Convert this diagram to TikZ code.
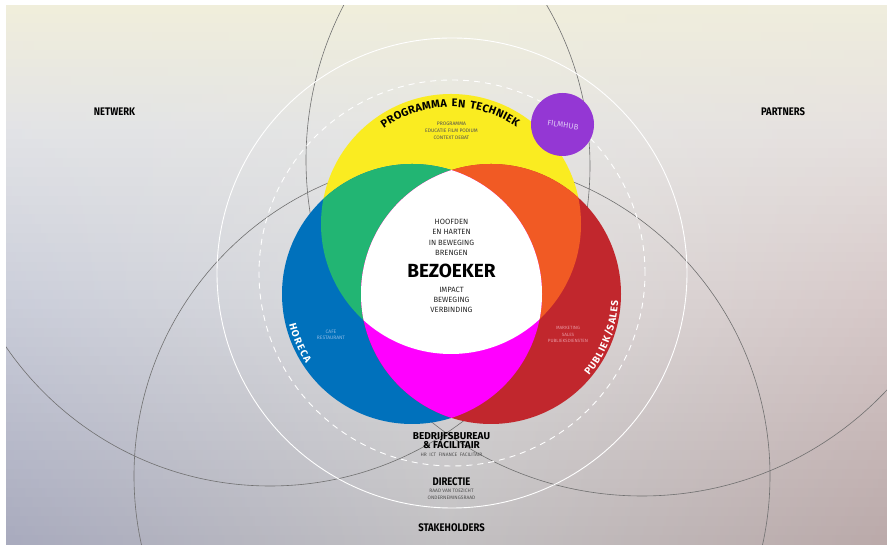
\documentclass[tikz,border=0pt]{standalone}
\usepackage{fontspec}
\setmainfont{Fira Sans}
\newfontfamily\headfont{Fira Sans}[FakeStretch=0.86]
\definecolor{cYel}{RGB}{250,236,33}
\definecolor{cGrn}{RGB}{34,181,115}
\definecolor{cOra}{RGB}{241,90,36}
\definecolor{cBlu}{RGB}{0,113,188}
\definecolor{cRed}{RGB}{193,39,45}
\definecolor{cMag}{RGB}{255,0,255}
\definecolor{cPur}{RGB}{148,55,212}
\definecolor{cLine}{RGB}{112,112,112}
\definecolor{cTxt}{RGB}{40,40,40}
\definecolor{cTiny}{RGB}{80,80,80}
\definecolor{cFilm}{RGB}{222,200,245}
\definecolor{cCafe}{RGB}{140,185,228}
\definecolor{cMark}{RGB}{232,150,160}
\definecolor{L0}{RGB}{240,238,219}\definecolor{C0}{RGB}{240,238,219}\definecolor{R0}{RGB}{239,237,221}
\definecolor{L1}{RGB}{226,227,230}\definecolor{C1}{RGB}{229,229,227}\definecolor{R1}{RGB}{230,225,223}
\definecolor{L2}{RGB}{203,206,218}\definecolor{C2}{RGB}{221,221,221}\definecolor{R2}{RGB}{215,201,201}
\definecolor{L3}{RGB}{168,170,189}\definecolor{C3}{RGB}{194,192,194}\definecolor{R3}{RGB}{186,169,169}
\newdimen\chwd
\newsavebox\chbox
\newcommand\gap{\hspace*{4pt}}
\def\arccolor{black}
% measure widths outside the picture: #1 prefix, #2 font, #3 tracking, #4 list
\newcommand\measure[4]{%
  \gdef\totw{0}%
  \foreach \ch [count=\k] in {#4}{%
    \sbox\chbox{#2\ch}\chwd=\wd\chbox
    \pgfmathsetmacro\w{\chwd}%
    \expandafter\xdef\csname w#1\k\endcsname{\w}%
    \pgfmathsetmacro\tmp{\totw+\w+#3}%
    \xdef\totw{\tmp}%
  }%
  \pgfmathsetmacro\tmp{\totw-#3}%
  \expandafter\xdef\csname span#1\endcsname{\tmp}%
}
% #1 prefix, #2 centre, #3 radius, #4 mid angle, #5 dir (1 clockwise top, -1 ccw), #6 font, #7 tracking, #8 list
\newcommand\arctext[8]{%
  \gdef\cum{0}%
  \foreach \ch [count=\k] in {#8}{%
    \edef\w{\csname w#1\k\endcsname}%
    \edef\spanw{\csname span#1\endcsname}%
    \pgfmathsetmacro\ang{#4+#5*(\spanw/2-\cum-\w/2)/#3*180/pi}%
    \pgfmathsetmacro\rot{\ang-#5*90}%
    \path (#2) ++(\ang:#3) node[rotate=\rot,anchor=base,inner sep=0pt,text=\arccolor] (#1\k) {#6\ch};%
    \pgfmathsetmacro\tmp{\cum+\w+#7}%
    \xdef\cum{\tmp}%
  }%
}
% background band segment
\newcommand\bgseg[9]{%
  \foreach \i in {1,...,#3}{%
    \pgfmathsetmacro\p{100*(\i-0.5)/#3}%
    \pgfmathsetmacro\ya{#1-(#1-#2)*(\i-1)/#3}%
    \pgfmathsetmacro\yb{#1-(#1-#2)*\i/#3-0.5}%
    \colorlet{bgl}{#7!\p!#4}\colorlet{bgc}{#8!\p!#5}\colorlet{bgr}{#9!\p!#6}%
    \shade[left color=bgl,right color=bgr,middle color=bgc] (6,\ya) rectangle (887,\yb);
  }}
\def\ptfont{\fontsize{11}{11}\selectfont\bfseries}
\def\arcfont{\fontsize{10}{10}\selectfont\bfseries}
\def\ptlist{P,R,O,G,R,A,M,M,A,\gap,E,N,\gap,T,E,C,H,N,I,E,K}
\begin{document}
\measure{pt}{\ptfont}{0.3}{P,R,O,G,R,A,M,M,A,\gap,E,N,\gap,T,E,C,H,N,I,E,K}%
\measure{ho}{\arcfont}{1.2}{H,O,R,E,C,A}%
\measure{ps}{\arcfont}{0.9}{P,U,B,L,I,E,K,/,S,A,L,E,S}%
\begin{tikzpicture}[x=1pt,y=1pt,
  thinline/.style={draw=cLine,line width=0.6pt},
  whiteline/.style={draw=white,line width=0.9pt},
  dashline/.style={draw=white,line width=0.9pt,dash pattern=on 6pt off 5pt},
  lbl/.style={inner sep=0pt,align=center},
  head/.style={lbl,font=\headfont\bfseries\fontsize{11}{11}\selectfont,text=black},
  tiny/.style={lbl,font=\fontsize{5}{7}\selectfont,text=cTiny},
  ]
\useasboundingbox (0,0) rectangle (887,545);
\fill[white] (0,0) rectangle (887,545);
\bgseg{539}{415}{14}{L0}{C0}{R0}{L1}{C1}{R1}
\bgseg{415}{245}{18}{L1}{C1}{R1}{L2}{C2}{R2}
\bgseg{245}{0}{26}{L2}{C2}{R2}{L3}{C3}{R3}
\coordinate (ycen) at (451,321);
\coordinate (bcen) at (412,251);
\coordinate (rcen) at (491,251);
\coordinate (fcen) at (562.5,420.5);
\coordinate (wcen) at (452,272);
\coordinate (leftc) at (270,379);
\coordinate (rightc) at (642,385);
\coordinate (botc) at (452,69);
\begin{scope}
\clip (6,0) rectangle (887,539);
\draw[thinline] (leftc) circle[radius=320];
\draw[thinline] (rightc) circle[radius=336];
\draw[thinline] (botc) circle[radius=318];
\draw[whiteline] (wcen) circle[radius=235];
\draw[dashline] (wcen) circle[radius=193];
\end{scope}
% colour circles
\fill[cYel] (ycen) circle[radius=130];
\fill[cBlu] (bcen) circle[radius=130];
\fill[cRed] (rcen) circle[radius=130];
\begin{scope}
\clip (ycen) circle[radius=130];
\fill[cGrn] (bcen) circle[radius=130];
\fill[cOra] (rcen) circle[radius=130];
\end{scope}
\begin{scope}
\clip (bcen) circle[radius=130];
\fill[cMag] (rcen) circle[radius=130];
\end{scope}
\begin{scope}
\clip (ycen) circle[radius=130];
\clip (bcen) circle[radius=130];
\fill[white] (rcen) circle[radius=130];
\end{scope}
\fill[cPur] (fcen) circle[radius=31.5];
% curved titles
\def\arccolor{black}
\arctext{pt}{ycen}{117}{90.5}{1}{\ptfont}{0.3}{P,R,O,G,R,A,M,M,A,\gap,E,N,\gap,T,E,C,H,N,I,E,K}
\def\arccolor{white}
\arctext{ho}{bcen}{126.5}{203.5}{-1}{\arcfont}{1.2}{H,O,R,E,C,A}
\arctext{ps}{rcen}{127.5}{-21.3}{-1}{\arcfont}{0.9}{P,U,B,L,I,E,K,/,S,A,L,E,S}
% texts
\node[tiny] (progsub) at (451.5,414.5) {PROGRAMMA\\EDUCATIE FILM PODIUM\\CONTEXT DEBAT};
\node[lbl,font=\fontsize{7.8}{8}\selectfont,text=cFilm,rotate=-9] (film) at (563,420) {FILMHUB};
\node[lbl,font=\fontsize{7.6}{10.3}\selectfont,text=cTxt] (hoofd) at (451.5,307.5) {HOOFDEN\\EN HARTEN\\IN BEWEGING\\BRENGEN};
\node[lbl,font=\bfseries\fontsize{19}{19}\selectfont,text=black] (bez) at (451.5,274.5) {BEZOEKER};
\node[lbl,font=\fontsize{7.6}{10}\selectfont,text=cTxt] (impact) at (451.5,245) {IMPACT\\BEWEGING\\VERBINDING};
\node[lbl,font=\fontsize{4.9}{6}\selectfont,text=cCafe] (cafe) at (331,210) {CAFE\\RESTAURANT};
\node[lbl,font=\fontsize{4.6}{6.8}\selectfont,text=cMark] (mark) at (568,210.5) {MARKETING\\SALES\\PUBLIEKSDIENSTEN};
\node[lbl,font=\bfseries\fontsize{10}{10}\selectfont,text=black,anchor=base] (bedr) at (451.5,105.5) {BEDRIJFSBUREAU};
\node[lbl,font=\bfseries\fontsize{10}{10}\selectfont,text=black,anchor=base] (facil) at (451.5,96.3) {\& FACILITAIR};
\node[tiny,font=\fontsize{4.9}{6}\selectfont] (hr) at (451.5,90.5) {HR\hspace{2.5pt}ICT\hspace{2.5pt}FINANCE\hspace{2.5pt}FACILITAIR};
\node[head,font=\headfont\bfseries\fontsize{11}{11}\selectfont] (dir) at (451.5,63) {DIRECTIE};
\node[tiny,font=\fontsize{4.9}{7}\selectfont] (raad) at (451.5,50.5) {RAAD VAN TOEZICHT\\ONDERNEMINGSRAAD};
\node[head] (stake) at (451.5,17) {STAKEHOLDERS};
\node[head] (netw) at (114.5,433.5) {NETWERK};
\node[head] (partn) at (783,433.5) {PARTNERS};
\end{tikzpicture}
\end{document}
